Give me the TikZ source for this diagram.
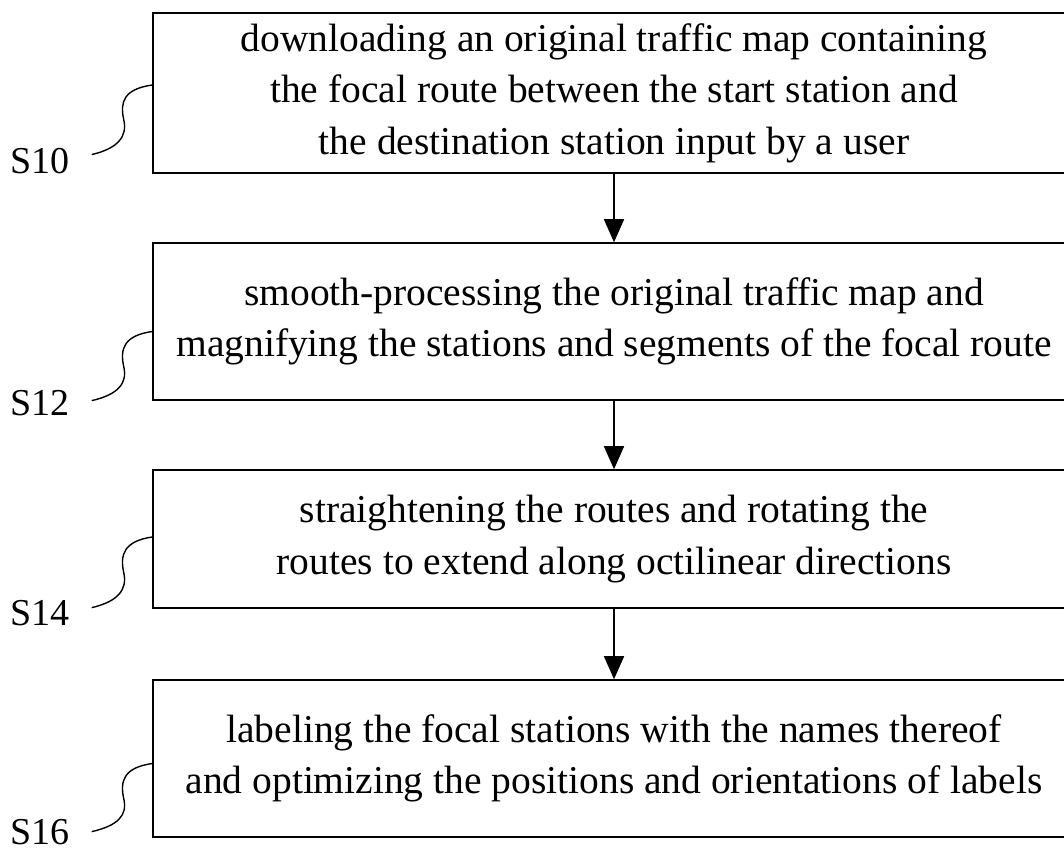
\documentclass[tikz,border=0pt]{standalone}
\usepackage{fontspec}
\setmainfont{Liberation Serif}
\usetikzlibrary{arrows.meta}

\begin{document}
\begin{tikzpicture}[x=1pt, y=-1pt, line width=1.6pt]
    \tikzstyle{stepbox}=[draw, minimum width=922pt, inner sep=0pt, align=center,
        font=\fontsize{39.5}{51.5}\selectfont, execute at begin node={\rule{0pt}{37pt}}];
    \tikzstyle{steplabel}=[inner sep=0pt, anchor=base west, font=\fontsize{38}{40}\selectfont];
    \tikzstyle{flow}=[-{Triangle[width=20pt, length=23pt]}];
    \tikzstyle{curl}=[line width=1.4pt];

    \useasboundingbox (0,0) rectangle (1064,852);

    \node at (614, 93.0) (b10) [stepbox, minimum height=160pt]
        {downloading an original traffic map containing\\the focal route between the start station and\\the destination station input by a user};
    \node at (614, 321.5) (b12) [stepbox, minimum height=157pt]
        {smooth-processing the original traffic map and\\magnifying the stations and segments of the focal route};
    \node at (614, 539.0) (b14) [stepbox, minimum height=138pt]
        {straightening the routes and rotating the\\routes to extend along octilinear directions};
    \node at (614, 758.5) (b16) [stepbox, minimum height=157pt]
        {labeling the focal stations with the names thereof\\and optimizing the positions and orientations of labels};

    \node at (10, 173) (l10) [steplabel] {S10};
    \node at (10, 415) (l12) [steplabel] {S12};
    \node at (10, 625) (l14) [steplabel] {S14};
    \node at (10, 844) (l16) [steplabel] {S16};

    % step order
    \draw[flow] (b10) -- (b12);
    \draw[flow] (b12) -- (b14);
    \draw[flow] (b14) -- (b16);

    % leaders from the step numbers
    \draw[curl] ([xshift=21pt, yshift=6pt]l10.east)
        .. controls +(26,-6) and +(4,17) .. ++(32,-35)
        .. controls +(-4,-18) and +(-28,4) .. ([yshift=8pt]b10.west);
    \draw[curl] ([xshift=21pt, yshift=2pt]l12.east)
        .. controls +(26,-6) and +(4,17) .. ++(32,-34)
        .. controls +(-4,-18) and +(-28,4) .. ([yshift=-10pt]b12.west);
    \draw[curl] ([xshift=21pt, yshift=5pt]l14.east)
        .. controls +(26,-6) and +(4,17) .. ++(32,-35)
        .. controls +(-4,-18) and +(-28,4) .. ([yshift=2pt]b14.west);
    \draw[curl] ([xshift=21pt, yshift=0pt]l16.east)
        .. controls +(26,-6) and +(4,17) .. ++(32,-33)
        .. controls +(-4,-18) and +(-28,4) .. ([yshift=-5pt]b16.west);
\end{tikzpicture}
\end{document}
